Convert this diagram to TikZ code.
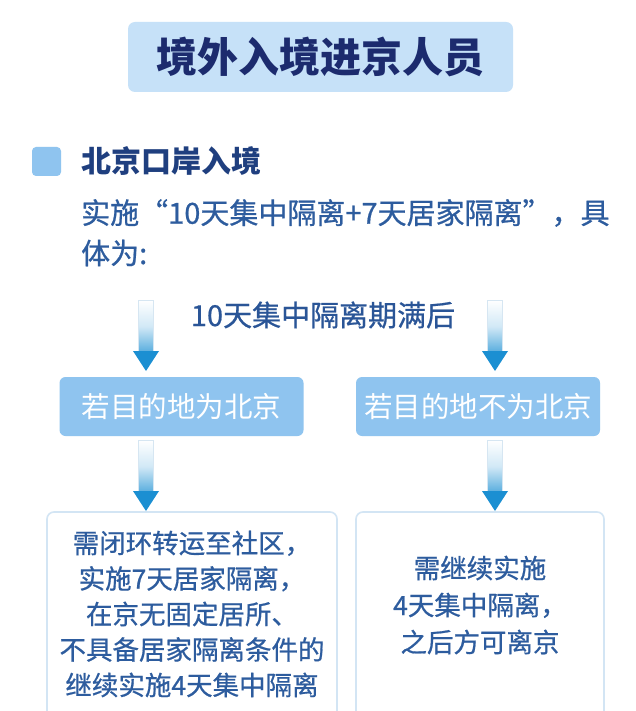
\documentclass[tikz,border=0pt]{standalone}
\usepackage{fontspec}
\setmainfont{Noto Sans CJK SC}
\newfontfamily\medium[FakeBold=0.7]{Noto Sans CJK SC}
\usetikzlibrary{calc}
\definecolor{navy}{HTML}{1C2B6E}
\definecolor{subnavy}{HTML}{1F3F7F}
\definecolor{bodyblue}{HTML}{2D5C9E}
\definecolor{titlefill}{HTML}{C6E1F8}
\definecolor{boxfill}{HTML}{8FC4EF}
\definecolor{boxedge}{HTML}{D3E5F4}
\definecolor{arrowblue}{HTML}{1B8FD2}
\definecolor{shaftedge}{HTML}{D6E6F2}
\newcommand\fs[2]{\fontsize{#1}{#2}\selectfont}
\newcommand\flowarrow[2]{%
  \path[draw=shaftedge,line width=0.8pt,top color=white,bottom color=arrowblue!75,middle color=white!80!arrowblue]
    ($(#1)+(-7.5,0)$) rectangle ($(#2)+(7.5,-18)$);
  \fill[arrowblue] ($(#2)+(-13,-20)$) -- ($(#2)+(13,-20)$) -- (#2) -- cycle;}
\begin{document}
\begin{tikzpicture}[x=1pt,y=-1pt,
  titlebox/.style={fill=titlefill,rounded corners=7pt,minimum width=385pt,minimum height=70pt,inner sep=0pt,
    text=navy,font=\fs{41}{41}\bfseries},
  midbox/.style={fill=boxfill,rounded corners=6pt,minimum width=244pt,minimum height=59pt,inner sep=0pt,
    text=white,font=\fs{28.5}{28.5}},
  resultbox/.style={draw=boxedge,line width=1.6pt,fill=white,rounded corners=7pt},
  resulttext/.style={text=bodyblue,align=center,inner sep=0pt},
  bodytext/.style={text=bodyblue,font=\medium\fs{29}{29},inner sep=0pt,anchor=west}]
\useasboundingbox (0,0) rectangle (636,711);
\clip (0,0) rectangle (636,711);
\fill[white] (0,0) rectangle (636,711);
% title
\node[titlebox] (title) at (320.5,57) {境外入境进京人员};
% bullet heading
\fill[boxfill,rounded corners=4pt] (32,147) rectangle (61,176);
\node[text=subnavy,font=\fs{30}{30}\bfseries,inner sep=0pt,anchor=west] (head) at (81,161) {北京口岸入境};
\node[bodytext] (line1) at (81,213) {实施“10天集中隔离+7天居家隔离”，具};
\node[bodytext] (line2) at (81,253) {体为:};
% after 10 days
\node[text=bodyblue!85!navy,font=\medium\fs{29}{29},inner sep=0pt] (after) at (323,315) {10天集中隔离期满后};
% mid boxes
\node[midbox] (bj) at (181.5,406.5) {若目的地为北京};
\node[midbox] (nbj) at (478,406.5) {若目的地不为北京};
% result boxes
\draw[resultbox] (47,512) rectangle (337,725);
\draw[resultbox] (356,512) rectangle (604,725);
\node[resulttext,font=\medium\fs{26.5}{35.5}] (rl) at (192,614) {需闭环转运至社区，\\实施7天居家隔离，\\在京无固定居所、\\不具备居家隔离条件的\\继续实施4天集中隔离};
\node[resulttext,font=\medium\fs{26.5}{37}] (rr) at (480,605) {需继续实施\\4天集中隔离，\\之后方可离京};
% arrows
\coordinate (a1s) at (146,300);
\coordinate (a1e) at (146,371);
\coordinate (a2s) at (495,300);
\coordinate (a2e) at (495,371);
\coordinate (b1s) at (146,440);
\coordinate (b1e) at (146,511);
\coordinate (b2s) at (495,440);
\coordinate (b2e) at (495,511);
\flowarrow{a1s}{a1e}
\flowarrow{a2s}{a2e}
\flowarrow{b1s}{b1e}
\flowarrow{b2s}{b2e}
\end{tikzpicture}
\end{document}
